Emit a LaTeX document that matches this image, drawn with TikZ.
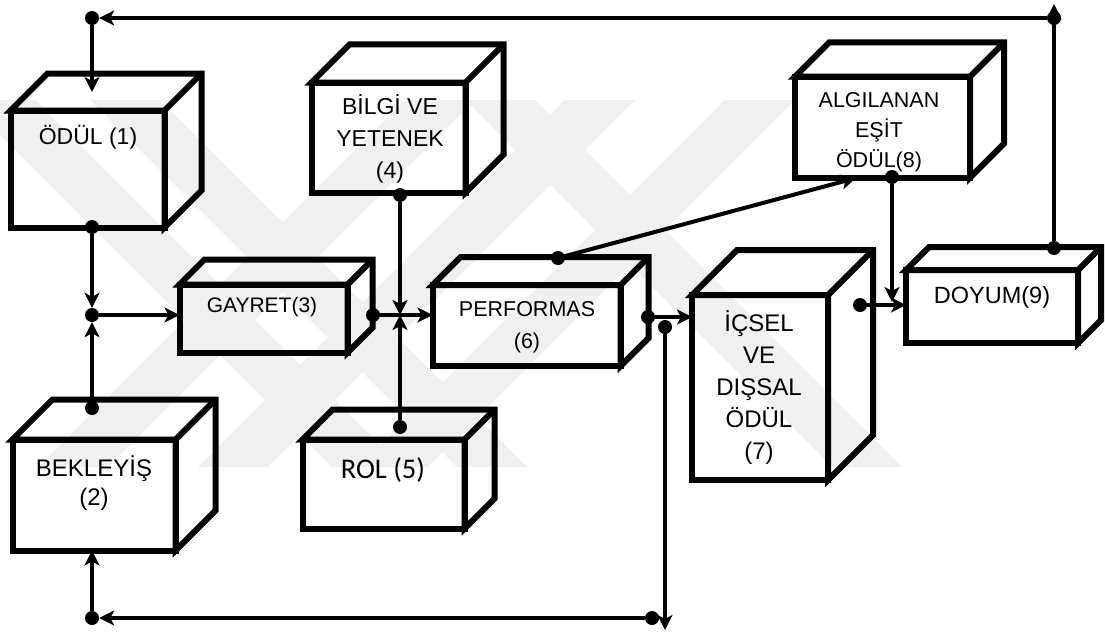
\documentclass[tikz,border=0pt]{standalone}
\usepackage{fontspec}
\setmainfont{Liberation Sans}
\newfontfamily\calibri{Carlito}
\usetikzlibrary{arrows.meta}

\newcommand{\cuboid}[5]{%
  \node[box,minimum width=#3,minimum height=#4] (#1) at (#2) {};
  \draw[face] (#1.north west) -- ++(#5,-#5) -- ++(#3,0) -- ++(0,#4) -- ++(-#5,#5) -- (#1.north east) -- cycle;
  \draw[face] (#1.north east) -- ++(#5,-#5);
}

\begin{document}
\begin{tikzpicture}[x=1pt,y=-1pt,
  box/.style={draw,line width=6pt,inner sep=0pt,outer sep=0pt},
  face/.style={line width=6pt,line join=miter},
  link/.style={line width=4pt,-{Stealth[length=15pt,width=15pt,inset=4pt]}},
  dot/.style={circle,fill,inner sep=0pt,minimum size=14pt},
  wm/.style={fill=black!6},
  lbl/.style={align=center,inner sep=0pt}]
\useasboundingbox (0,0) rectangle (1105,634);

\begin{scope}
\clip (0,100) rectangle (1000,467);
\foreach \c in {-100,25,400}
  \fill[wm] (\c+65,100) -- (\c+135,100) -- (\c+502,467) -- (\c+432,467) -- cycle;
\foreach \c in {540,700,860}
  \fill[wm] (\c-135,100) -- (\c-65,100) -- (\c-432,467) -- (\c-502,467) -- cycle;
\end{scope}

\cuboid{odul}{87.5,169}{154}{117}{37}
\cuboid{bek}{94,495}{163}{111}{40}
\cuboid{gay}{263.5,318.5}{168}{68}{25}
\cuboid{bil}{388.5,137.5}{154}{110}{38}
\cuboid{rol}{383.5,484}{162}{89}{30}
\cuboid{perf}{526.5,325.5}{188}{81}{28}
\cuboid{ics}{760,387.5}{136}{185}{45}
\cuboid{alg}{882.5,127}{175}{101}{34}
\cuboid{doy}{992,306.5}{172}{73}{23}

\node[lbl,font=\fontsize{23}{32}\selectfont] (t1) at (88,137) {ÖDÜL (1)};
\node[lbl,font=\fontsize{24}{29}\selectfont] (t2) at (94,483) {BEKLEYİŞ\\(2)};
\node[lbl,font=\fontsize{21}{30}\selectfont] (t3) at (262,307) {GAYRET(3)};
\node[lbl,font=\fontsize{23}{32}\selectfont] (t4) at (390,139) {BİLGİ VE\\YETENEK\\(4)};
\node[lbl,font=\fontsize{28.5}{30}\calibri\selectfont] (t5) at (383,470) {ROL (5)};
\node[lbl,font=\fontsize{21.5}{32}\selectfont] (t6) at (527,327) {PERFORMAS\\(6)};
\node[lbl,font=\fontsize{24}{32}\selectfont] (t7) at (759,388) {İÇSEL\\VE\\DIŞSAL\\ÖDÜL\\(7)};
\node[lbl,font=\fontsize{21.5}{30}\selectfont] (t8) at (879,132) {ALGILANAN\\EŞİT\\ÖDÜL(8)};
\node[lbl,font=\fontsize{23.5}{30}\selectfont] (t9) at (992,297) {DOYUM(9)};

\node[dot] (fbL) at (92,18) {};
\node[dot] (fbR) at (1054,18) {};
\node[dot] (o1) at (92,227) {};
\node[dot] (o2) at (92,408) {};
\node[dot] (j1) at (92,315) {};
\node[dot] (o3) at (373,315) {};
\node[dot] (o4) at (400,195) {};
\node[dot] (o5) at (400,427) {};
\node[dot] (o6a) at (558,258) {};
\node[dot] (o6b) at (648,317) {};
\node[dot] (o6c) at (665,327) {};
\node[dot] (o7) at (860,305) {};
\node[dot] (o8) at (892,177) {};
\node[dot] (o9) at (1054,248) {};
\node[dot] (bR) at (652,618) {};
\node[dot] (bL) at (92,618) {};
\coordinate (j2) at (400,315);
\coordinate (upTip) at (1054,4);
\coordinate (dnTip) at (665,630);
\coordinate (in1) at (92,92);
\coordinate (in8) at (856,178);
\coordinate (in9) at (892,302);

\draw[link] (o9) -- (upTip);
\draw[link] (fbR) -- (fbL);
\draw[link] (fbL) -- (in1);
\draw[link] (o1) -- (j1);
\draw[link] (o2) -- (j1);
\draw[link] (j1) -- (j1 -| gay.west);
\draw[link] (o3) -- (o3 -| perf.west);
\draw[link] (o4) -- (j2);
\draw[link] (o5) -- (j2);
\draw[link] (o6a) -- (in8);
\draw[link] (o6b) -- (o6b -| ics.west);
\draw[link] (o6c) -- (dnTip);
\draw[link] (bR) -- (bL);
\draw[link] (bL) -- (bL |- bek.south);
\draw[link] (o8) -- (in9);
\draw[link] (o7) -- (o7 -| doy.west);
\end{tikzpicture}
\end{document}
